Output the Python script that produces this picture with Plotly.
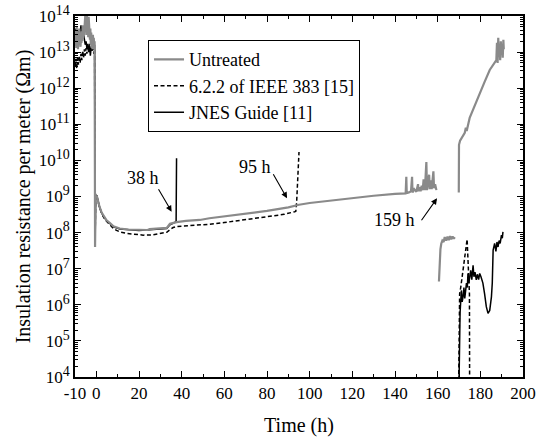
import plotly.graph_objects as go

# ---------------- data ----------------
# Untreated (gray)
untr_pre_t = [-10.0,-9.8,-9.6,-9.4,-9.2,-9.0,-8.8,-8.6,-8.4,-8.2,-8.0,-7.8,-7.6,-7.4,-7.2,-7.0,-6.8,-6.6,-6.4,-6.2,-6.0,-5.8,-5.6,-5.4,-5.2,-5.0,-4.8,-4.6,-4.4,-4.2,-4.0,-3.8,-3.6,-3.4,-3.2,-3.0,-2.8,-2.6,-2.4,-2.2,-2.0,-1.8,-1.6,-1.4,-1.2,-1.0,-0.8,-0.6,-0.3]
untr_pre_v = [4e13,1.5e13,3e13,1.3e13,5e13,2e13,3.5e13,1.2e13,2.8e13,1.6e13,4.5e13,2.2e13,3.2e13,1.4e13,2.6e13,1.8e13,3.8e13,2.0e13,5.5e13,2.4e13,4.2e13,2.8e13,7e13,3.5e13,1e14,4.5e13,9e13,3e13,1e14,5e13,8e13,2.6e13,9.5e13,3.2e13,6e13,2.2e13,4.5e13,1.6e13,3.5e13,1.3e13,2.8e13,1.2e13,3e13,1.4e13,2.5e13,1.5e13,2e13,4e7,1.2e9]
untr_main_t = [0.2,0.8,1.5,2.5,3.5,4.8,6.4,8,11,15,20,22,24,25,30,33,34.5,36,37.6,42,48.5,53,60,70,80,90,95,100,110,120,130,140,145,
               145.3,145.5,146.5,147.5,148,148.2,149,150,150.8,151,151.3,152,152.5,153,153.4,154,154.7,155,155.5,156,156.3,156.8,157.2,157.6,158,158.3,158.8,159.4]
untr_main_v = [1.05e9,7.5e8,5.2e8,3.6e8,2.8e8,2.2e8,1.85e8,1.5e8,1.3e8,1.22e8,1.2e8,1.18e8,1.18e8,1.25e8,1.3e8,1.35e8,1.75e8,1.85e8,1.95e8,2.1e8,2.24e8,2.5e8,2.8e8,3.3e8,4.0e8,5.0e8,5.9e8,6.6e8,7.8e8,9.0e8,1.05e9,1.18e9,1.22e9,
               3.5e9,1.25e9,1.3e9,1.4e9,3.5e9,1.3e9,1.6e9,1.35e9,2.2e9,1.4e9,1.8e9,1.4e9,2e9,1.5e9,3e9,1.5e9,9e9,1.5e9,2.5e9,4e9,1.6e9,2.8e9,1.6e9,3.5e9,5e9,1.7e9,2.2e9,1.5e9]
untr_seg2_t = [160.6,160.8,161.0,161.3,161.7,162.2,162.8,163.3,164,164.6,165.2,165.8,166.4,167,167.6,168]
untr_seg2_v = [4.4e6,1.2e7,2.2e7,3.5e7,5e7,6e7,5.5e7,7.5e7,6e7,7.8e7,6.2e7,8e7,6.5e7,7.8e7,6.8e7,7.5e7]
untr_seg3_t = [169.9,170.0,170.5,171.2,172,172.7,173.2,173.6,175,177,179.7,182,184.4,186,187.5,187.8,188.1,188.4,188.7,189,189.3,189.6,189.9,190.2,190.5,190.8,191]
untr_seg3_v = [1.3e9,2.7e10,3.5e10,4.2e10,5e10,5.8e10,8e10,6.5e10,1.5e11,3e11,7.4e11,1.5e12,3.2e12,4.5e12,6e12,1.8e13,5e12,2.5e13,8e12,1.4e13,6e12,2e13,9e12,1.7e13,7e12,2.2e13,1.2e13]

# 6.2.2 of IEEE 383 (dashed)
ieee_pre_t = [-10,-9.6,-9.2,-8.8,-8.4,-8.0,-7.6,-7.2,-6.8,-6.4,-6.0,-5.6,-5.2,-4.8,-4.4,-4.0,-3.6,-3.2,-2.8,-2.4,-2.0,-1.6,-1.2,-0.8,-0.6,-0.3]
ieee_pre_v = [4e12,6.5e12,3.5e12,7e12,4.5e12,8e12,5e12,9e12,6e12,1.1e13,7e12,1.2e13,8e12,1.3e13,9e12,1.5e13,1.1e13,1.7e13,1.2e13,1.5e13,1.1e13,1.4e13,9e12,1.2e13,4.5e7,1.1e9]
ieee_main_t = [0.2,0.8,1.5,2.5,3.5,4.8,6.4,8,9.5,11,14.2,18,22,26,30,33,34.5,36,37.6,45,48.5,53,60,72,80,88,93,93.5,93.9,94.3,94.7,95.0]
ieee_main_v = [1.0e9,7e8,5e8,3.4e8,2.6e8,2.05e8,1.65e8,1.3e8,1.15e8,1.05e8,9.5e7,8.8e7,8.5e7,8.6e7,9.3e7,1.02e8,1.2e8,1.38e8,1.48e8,1.58e8,1.62e8,1.7e8,1.9e8,2.35e8,2.7e8,3.2e8,3.8e8,3.9e8,7e8,2e9,7e9,1.7e10]
ieee_post_t = [169.7,170.0,170.3,170.8,171.3,171.8,172.3,172.8,173.3,173.8,174.1,174.4,174.7,174.9,175.0]
ieee_post_v = [1e3,1e5,2e6,3e6,5e6,8e6,1.5e7,2.5e7,4e7,6.5e7,2.5e7,8e6,3e6,2e6,1e3]

# JNES Guide (solid black)
jnes_pre_t = [-10,-9.6,-9.2,-8.8,-8.4,-8.0,-7.6,-7.2,-6.8,-6.4,-6.0,-5.6,-5.2,-4.8,-4.4,-4.0,-3.6,-3.2,-2.8,-2.4,-2.0,-1.6,-1.2,-0.8,-0.6,-0.3]
jnes_pre_v = [3e13,4.5e13,2.8e13,3.8e13,2.6e13,4e13,3e13,5.5e13,3.5e13,4.8e13,3.2e13,2.5e13,1.6e13,2e13,1.2e13,1.7e13,1e13,1.5e13,8e12,1.4e13,1.1e13,1.9e13,1.2e13,1.6e13,4e7,1.15e9]
jnes_main_t = [0.2,0.8,1.5,2.5,3.5,4.8,6.4,8,11,15,20,25,30,33,34.5,36,37.4,37.6]
jnes_main_v = [1.08e9,7.3e8,5.1e8,3.5e8,2.7e8,2.15e8,1.8e8,1.45e8,1.25e8,1.18e8,1.15e8,1.2e8,1.25e8,1.3e8,1.65e8,1.8e8,2e8,1.15e10]
jnes_post_t = [169.8,170.1,170.5,171.1,171.5,171.9,172.3,172.7,173.1,173.5,173.9,174.2,174.6,175,175.5,176,176.6,177,177.5,178.1,178.6,179.2,179.7,180.3,181.2,182,182.8,183.6,184.4,185.2,185.6,186,186.7,187.3,187.8,188.3,188.8,189.3,189.9,190.3,190.6]
jnes_post_v = [1e3,1e5,6e5,2.5e6,1.2e6,1.7e6,3e6,1.5e6,2.5e6,4e6,3e6,7.4e6,4e6,6e6,9e6,5e6,1.25e7,6e6,8e6,4.9e6,7e6,5e6,7.4e6,6e6,4e6,2e6,8.9e5,5.8e5,7e5,1.66e6,4e6,3.3e7,5e7,3e7,5.5e7,4e7,6e7,5e7,8.5e7,7e7,1.05e8]

x_tickvals = [-10, 0, 20, 40, 60, 80, 100, 120, 140, 160, 180, 200]
y_tickvals = [1e4, 1e5, 1e6, 1e7, 1e8, 1e9, 1e10, 1e11, 1e12, 1e13, 1e14]
y_ticktext = ["10<sup><span style='font-size:14px'>%d</span></sup>" % e for e in range(4, 15)]
series_names = ["Untreated", "6.2.2 of IEEE 383 [15]", "JNES Guide [11]"]

def join(*segs):
    t, v = [], []
    for i in range(0, len(segs), 2):
        if t:
            t.append(None); v.append(None)
        t += segs[i]; v += segs[i + 1]
    return t, v

FONT = "Liberation Serif"

fig = go.Figure()
jt, jv = join(jnes_pre_t, jnes_pre_v, jnes_main_t, jnes_main_v, jnes_post_t, jnes_post_v)
it, iv = join(ieee_pre_t, ieee_pre_v, ieee_main_t, ieee_main_v, ieee_post_t, ieee_post_v)
ut, uv = join(untr_pre_t, untr_pre_v, untr_main_t, untr_main_v, untr_seg2_t, untr_seg2_v, untr_seg3_t, untr_seg3_v)

fig.add_trace(go.Scatter(x=jt, y=jv, mode="lines", name=series_names[2], legendrank=3,
                         line=dict(color="black", width=1.5), connectgaps=False))
fig.add_trace(go.Scatter(x=it, y=iv, mode="lines", name=series_names[1], legendrank=2,
                         line=dict(color="black", width=1.5, dash="4px,2.5px"), connectgaps=False))
fig.add_trace(go.Scatter(x=ut, y=uv, mode="lines", name=series_names[0], legendrank=1,
                         line=dict(color="#8a8a8a", width=2.2), connectgaps=False))

# annotations: arrows and labels
arrows = [
    dict(x=35.3, y=8.58, ax=-14, ay=-24),
    dict(x=89.4, y=8.95, ax=-14.6, ay=-25.6),
    dict(x=159.7, y=8.95, ax=-16.6, ay=23.4),
]
for a in arrows:
    fig.add_annotation(x=a["x"], y=a["y"], ax=a["ax"], ay=a["ay"], text="", showarrow=True,
                       arrowhead=2, arrowsize=1.1, arrowwidth=1.1, arrowcolor="black")
labels = [("38 h", 21.9, 9.51), ("95 h", 74.5, 9.83), ("159 h", 139.9, 8.35)]
for txt, x, y in labels:
    fig.add_annotation(x=x, y=y, text=txt, showarrow=False,
                       font=dict(family=FONT, size=18, color="black"))

fig.update_xaxes(range=[-10, 200], tickmode="array", tickvals=x_tickvals,
                 ticktext=[str(v) for v in x_tickvals], automargin=False,
                 showline=True, linecolor="black", linewidth=1.5, mirror="ticks",
                 ticks="inside", tickcolor="black", tickwidth=1.3, ticklen=6,
                 showgrid=False, zeroline=False,
                 tickfont=dict(family=FONT, size=17, color="black"),
                 minor=dict(ticks="inside", ticklen=3, tickwidth=1.2, dtick=10, tick0=0, tickcolor="black"),
                 title=dict(text="Time (h)", font=dict(family=FONT, size=20, color="black"), standoff=16))
fig.update_yaxes(type="log", range=[4, 14], tickmode="array", tickvals=y_tickvals, ticktext=y_ticktext,
                 automargin=False,
                 showline=True, linecolor="black", linewidth=1.5, mirror="ticks",
                 ticks="inside", tickcolor="black", tickwidth=1.3, ticklen=6,
                 showgrid=False, zeroline=False,
                 tickfont=dict(family=FONT, size=17, color="black"),
                 minor=dict(ticks="inside", ticklen=3, tickwidth=1, dtick="D1", tickcolor="black"),
                 title=dict(text="Insulation resistance per meter (Ωm)",
                            font=dict(family=FONT, size=20, color="black"), standoff=3))

fig.update_layout(
    width=547, height=445,
    margin=dict(l=75, r=24, t=16, b=68),
    paper_bgcolor="white", plot_bgcolor="white",
    legend=dict(x=0.163, y=0.933, xanchor="left", yanchor="top",
                bgcolor="white", bordercolor="black", borderwidth=1,
                font=dict(family=FONT, size=18, color="black"),
                tracegroupgap=0, itemwidth=30),
    showlegend=True,
)

fig.write_html("out.html", config={"displayModeBar": False},
               post_script="document.body.style.margin='0';document.body.style.overflow='hidden';")
